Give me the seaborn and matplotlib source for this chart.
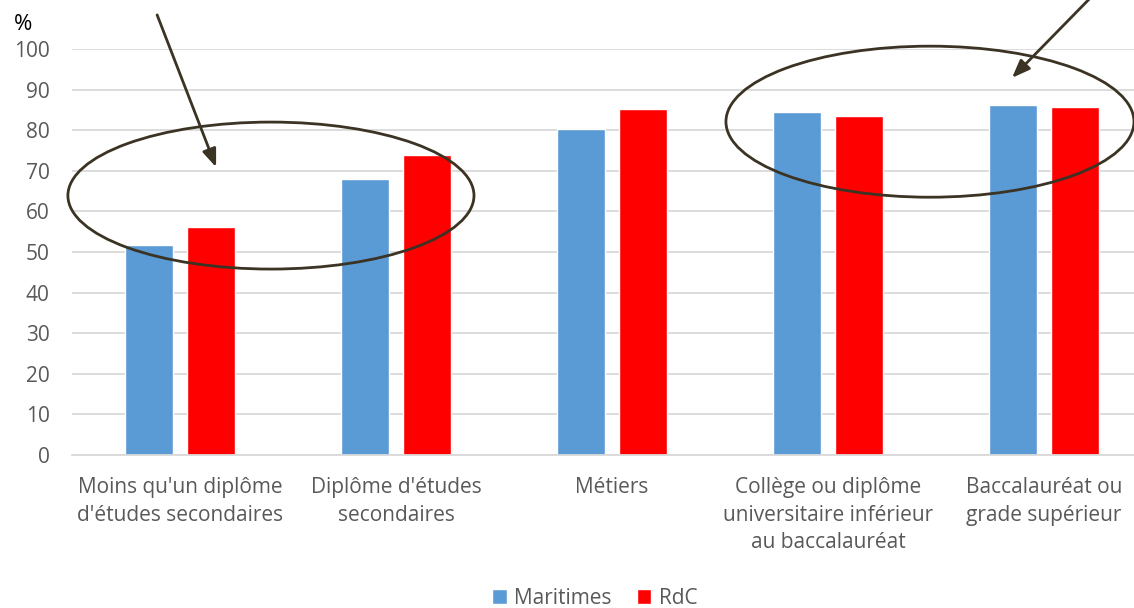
import matplotlib
matplotlib.use("Agg")

import matplotlib.pyplot as plt
import pandas as pd
import seaborn as sns
from matplotlib.patches import Ellipse

# ---------------------------------------------------------------------------
# Data
# ---------------------------------------------------------------------------
CATEGORIES = [
    "Moins qu'un diplôme\nd'études secondaires",
    "Diplôme d'études\nsecondaires",
    "Métiers",
    "Collège ou diplôme\nuniversitaire inférieur\nau baccalauréat",
    "Baccalauréat ou\ngrade supérieur",
]
MARITIMES = [51.7, 68.0, 80.2, 84.5, 86.2]
RDC = [56.2, 73.9, 85.2, 83.6, 85.7]
SERIES = ["Maritimes", "RdC"]

PALETTE = {"Maritimes": "#5B9BD5", "RdC": "#FF0000"}
TEXT_GREY = "#595959"
ANNOT = "#3B3323"

df = pd.DataFrame({
    "Categorie": CATEGORIES * 2,
    "Serie": ["Maritimes"] * len(CATEGORIES) + ["RdC"] * len(CATEGORIES),
    "Valeur": MARITIMES + RDC,
})

# ---------------------------------------------------------------------------
# Plot
# ---------------------------------------------------------------------------
sns.set_theme(style="white")
plt.rcParams["font.family"] = ["Open Sans", "DejaVu Sans"]

fig = plt.figure(figsize=(11.34, 6.08), dpi=100)
ax = fig.add_axes([0.0635, 0.2516, 0.9365, 0.6678])

sns.barplot(
    data=df, x="Categorie", y="Valeur", hue="Serie",
    order=CATEGORIES, hue_order=SERIES, palette=PALETTE,
    width=0.574, gap=0.226, saturation=1, ax=ax, errorbar=None,
)

ax.set_ylim(0, 100)
ax.set_xlim(-0.5, 4.5 - 18 / 216)
ax.set_yticks(range(0, 101, 10))
ax.yaxis.grid(True, color="#D9D9D9", linewidth=1.3)
ax.set_axisbelow(True)
for side in ["top", "right", "left"]:
    ax.spines[side].set_visible(False)
ax.spines["bottom"].set_color("#D9D9D9")
ax.spines["bottom"].set_linewidth(1.3)
ax.tick_params(axis="y", colors=TEXT_GREY, labelsize=15, length=0, pad=16)
ax.tick_params(axis="x", colors=TEXT_GREY, labelsize=15, length=0, pad=16)
for lab in ax.get_xticklabels():
    lab.set_linespacing(1.4)
ax.set_xlabel("")
ax.set_ylabel("")

fig.text(0.012, 0.95, "%", fontsize=16, color="black")

# legend
handles, labels = ax.get_legend_handles_labels()
ax.legend(
    handles, labels, loc="lower center", bbox_to_anchor=(0.5 - 0.0635 / 2 + 0.024, -0.425),
    ncol=2, frameon=False, fontsize=15, handlelength=0.7, handleheight=0.7,
    handletextpad=0.35, columnspacing=1.2, labelcolor=TEXT_GREY,
)

# annotations: ellipses + arrows
for (cx, cy, w, h) in [(0.421, 63.9, 1.88, 36.2), (3.472, 82.1, 1.889, 37.2)]:
    ax.add_patch(Ellipse((cx, cy), w, h, fill=False, edgecolor=ANNOT,
                         linewidth=2, clip_on=False, zorder=5))

for (x0, y0, x1, y1) in [(-0.106, 108.4, 0.167, 70.9), (4.213, 112.5, 3.852, 92.9)]:
    ax.annotate(
        "", xy=(x1, y1), xytext=(x0, y0), annotation_clip=False,
        arrowprops=dict(arrowstyle="-|>,head_length=0.9,head_width=0.35",
                        color=ANNOT, linewidth=2, shrinkA=0, shrinkB=0),
        zorder=6,
    )

fig.savefig("out.png", dpi=100)
